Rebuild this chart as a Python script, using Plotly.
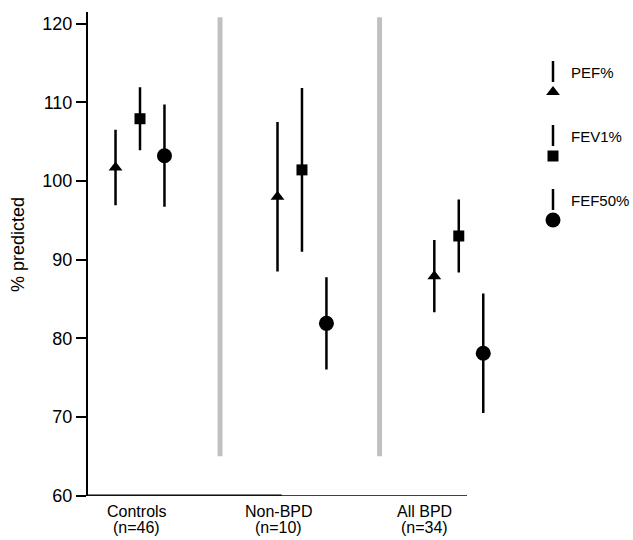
import plotly.graph_objects as go

# ---- data ----
groups = ["Controls", "Non-BPD", "All BPD"]
group_n = ["(n=46)", "(n=10)", "(n=34)"]
group_pos = [1.0, 2.006, 2.98]
label_pos = [0.981, 1.863, 2.77]
divider_pos = [1.497, 2.488]

series = ["PEF%", "FEV1%", "FEF50%"]
symbols = ["triangle-up", "square", "circle"]
sizes = [12, 11, 15]
offsets = [-0.152, 0.0, 0.152]

pef_mean = [101.7, 98.0, 87.9]
pef_err = [4.8, 9.5, 4.6]
fev1_mean = [107.9, 101.4, 93.0]
fev1_err = [4.0, 10.4, 4.65]
fef50_mean = [103.2, 81.9, 78.1]
fef50_err = [6.5, 5.85, 7.6]

means = [pef_mean, fev1_mean, fef50_mean]
errs = [pef_err, fev1_err, fef50_err]

W, H = 633, 540
FONT = "Arial, Liberation Sans, Helvetica, sans-serif"
X0, X_END = 0.677, 3.031       # extent of the drawn x baseline
PX_PER_UNIT = 161.0
X_DOM = (88, 540)              # pixel extent of x axis domain

fig = go.Figure()

for name, sym, sz, off, m, e in zip(series, symbols, sizes, offsets, means, errs):
    fig.add_trace(go.Scatter(
        x=[g + off for g in group_pos], y=m, mode="markers", name=name,
        marker=dict(symbol=sym, size=sz, color="black", line=dict(width=0)),
        error_y=dict(type="data", array=e, visible=True, color="black",
                     thickness=2.5, width=0),
        showlegend=False, xaxis="x", yaxis="y", cliponaxis=False,
    ))

# grey divider lines
for d in divider_pos:
    fig.add_shape(type="line", xref="x", yref="y", x0=d, x1=d, y0=65, y1=120.8,
                  line=dict(color="#c0c0c0", width=5), layer="below")

# x baseline
fig.add_shape(type="line", xref="x", yref="y", x0=X0, x1=X_END, y0=60, y1=60,
              line=dict(color="black", width=1.6))
fig.add_shape(type="line", xref="x", yref="y", x0=X0, x1=1.88, y0=60, y1=60,
              line=dict(color="black", width=2.2))

# group labels (two lines each)
for lp, g, n in zip(label_pos, groups, group_n):
    fig.add_annotation(x=lp, y=(H - 511) / H, xref="x", yref="paper", text=g,
                       showarrow=False, xanchor="center", yanchor="middle",
                       font=dict(family=FONT, size=16, color="black"))
    fig.add_annotation(x=lp, y=(H - 527) / H, xref="x", yref="paper", text=n,
                       showarrow=False, xanchor="center", yanchor="middle",
                       font=dict(family=FONT, size=16, color="black"))

# ---- custom legend (pixel coordinates on a full-page helper axis) ----
LEG_X = 553
LEG_Y0 = 92
LEG_DY = 64
leg_y = [LEG_Y0 + i * LEG_DY for i in range(len(series))]
fig.add_trace(go.Scatter(x=[0], y=[0], mode="markers", marker=dict(size=1, opacity=0),
                         showlegend=False, xaxis="x2", yaxis="y2", hoverinfo="skip"))
# triangle
r = sizes[0] / 2
rt = r * 2 / 3 ** 0.5
ty = leg_y[0]
fig.add_shape(type="path", xref="x2", yref="y2",
              path=f"M {LEG_X - rt},{ty + r / 2} L {LEG_X + rt},{ty + r / 2} L {LEG_X},{ty - r} Z",
              fillcolor="black", line=dict(width=0))
# square
s = sizes[1] / 2
fig.add_shape(type="rect", xref="x2", yref="y2", x0=LEG_X - s, x1=LEG_X + s,
              y0=leg_y[1] - s, y1=leg_y[1] + s, fillcolor="black", line=dict(width=0))
# circle
c = sizes[2] / 2
fig.add_shape(type="circle", xref="x2", yref="y2", x0=LEG_X - c, x1=LEG_X + c,
              y0=leg_y[2] - c, y1=leg_y[2] + c, fillcolor="black", line=dict(width=0))

for name, yy in zip(series, leg_y):
    fig.add_shape(type="line", xref="x2", yref="y2", x0=LEG_X, x1=LEG_X,
                  y0=yy - 31, y1=yy - 10, line=dict(color="black", width=2.5))
    fig.add_annotation(x=LEG_X + 16, y=yy - 20, xref="x2", yref="y2", text=name,
                       showarrow=False, xanchor="left", yanchor="middle",
                       font=dict(family=FONT, size=15, color="black"))

# y-axis title
fig.add_annotation(x=18 / W, y=(H - 245) / H, xref="paper", yref="paper",
                   text="% predicted", textangle=-90, showarrow=False,
                   xanchor="center", yanchor="middle",
                   font=dict(family=FONT, size=18, color="black"))

x_range_end = X0 + (X_DOM[1] - X_DOM[0]) / PX_PER_UNIT

fig.update_layout(
    template="none",
    width=W, height=H,
    margin=dict(l=0, r=0, t=0, b=0, pad=0),
    paper_bgcolor="white", plot_bgcolor="rgba(0,0,0,0)",
    font=dict(family=FONT, color="black"),
    hovermode=False,
    xaxis=dict(domain=[X_DOM[0] / W, X_DOM[1] / W], range=[X0, x_range_end],
               showgrid=False, zeroline=False, showline=False, ticks="",
               showticklabels=False, anchor="y", automargin=False),
    yaxis=dict(domain=[(H - 495.7) / H, (H - 11.7) / H], range=[60, 121.5],
               showgrid=False, zeroline=False, showline=True, linecolor="black",
               linewidth=2, ticks="outside", ticklen=10, tickwidth=2,
               tickcolor="black", tickvals=[60, 70, 80, 90, 100, 110, 120],
               tickfont=dict(size=18, family=FONT, color="black"), anchor="x",
               automargin=False),
    xaxis2=dict(domain=[0, 1], range=[0, W], visible=False, anchor="y2",
                automargin=False),
    yaxis2=dict(domain=[0, 1], range=[H, 0], visible=False, anchor="x2",
                automargin=False),
)

fig.write_html("out.html", config={"displayModeBar": False},
               post_script="document.body.style.margin='0px';document.body.style.padding='0px';")
